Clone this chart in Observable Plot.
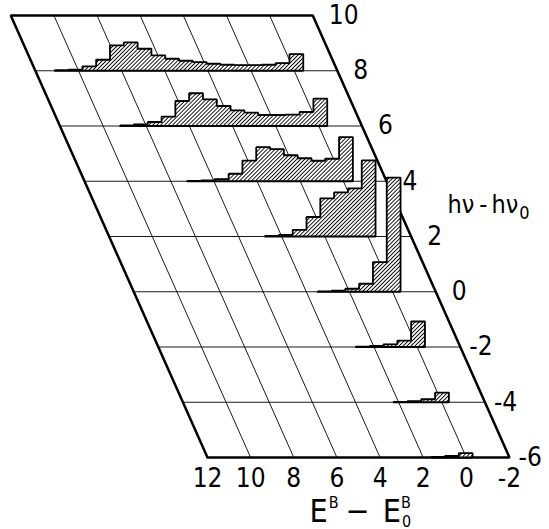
<!DOCTYPE html>
<html><head><meta charset="utf-8">
<script src="https://cdn.jsdelivr.net/npm/d3@7"></script>
<script src="https://cdn.jsdelivr.net/npm/@observablehq/plot@0.6"></script>
<style>
body{margin:0;background:#fff;}
.hist path{fill:url(#hatch);}
</style></head><body>
<div id="chart"></div>
<script>
// ---- data ----
const hvTicks = [10, 8, 6, 4, 2, 0, -2, -4, -6];
const hvTickLabels = ["10", "8", "6", "4", "2", "0", "-2", "-4", "-6"];
const eTicks = [12, 10, 8, 6, 4, 2, 0, -2];
const eTickLabels = ["12", "10", "8", "6", "4", "2", "0", "-2"];
const eGrid = [10, 8, 6, 4, 2, 0];
const hvGrid = [8, 6, 4, 2, 0, -2, -4];
const rowHv = [8, 6, 4, 2, 0, -2, -4, -6];
// right-hand edge (in E^B - E0^B) of each histogram, and bin width
const rowRightE = [-0.42, -0.39, -0.44, -0.35, -0.37, -0.36, -0.33, -0.29];
const binWidthE = 0.64;
// histogram intensities (arbitrary units), listed from the right-hand bin leftwards
const counts8 = [16.7, 7.7, 6, 5.7, 5.7, 6, 7, 8.7, 10, 12, 15.3, 22, 28.3, 25.3, 11, 4.3, 1, 0.5];
const counts6 = [27.3, 14, 11.3, 11, 11, 13.3, 15.7, 20, 26.7, 32.7, 25, 9.3, 4, 1.7, 0.6];
const counts4 = [44, 22.5, 20.5, 23, 26, 32, 34, 20.7, 7.5, 2.2, 0.8, 0.4];
const counts2 = [76, 48, 44, 38, 19.5, 6.7, 1.7, 0.6];
const counts0 = [114, 29.5, 8, 3, 1, 0.4];
const countsM2 = [25.5, 6.3, 2.7, 1, 0.4];
const countsM4 = [9.7, 3, 1, 0.4];
const countsM6 = [4.3, 1.5, 0.5];
const rowCounts = [counts8, counts6, counts4, counts2, counts0, countsM2, countsM4, countsM6];
const xLabel = "EB − E0B";
const yLabel = "hν - hν0";

// ---- oblique projection ----
const eMax = d3.max(eTicks), eMin = d3.min(eTicks);
const hvMin = d3.min(hvTicks), hvMax = d3.max(hvTicks);
const shear = 0.57;          // E-units shift per hν unit
const ampl = 1 / 27.6;       // hν units per intensity unit
const xv = (e, h) => e + shear * (h - hvMin);

const marks = [];
// grid
marks.push(Plot.link(hvGrid, {x1: h => xv(eMax, h), x2: h => xv(eMin, h), y1: h => h, y2: h => h, stroke: "#000", strokeWidth: 0.9}));
marks.push(Plot.link(eGrid, {x1: e => xv(e, hvMin), x2: e => xv(e, hvMax), y1: () => hvMin, y2: () => hvMax, stroke: "#000", strokeWidth: 0.9}));
// frame
const frame = [[eMax, hvMin], [eMin, hvMin], [eMin, hvMax], [eMax, hvMax], [eMax, hvMin]];
marks.push(Plot.line(frame, {x: d => xv(d[0], d[1]), y: d => d[1], stroke: "#000", strokeWidth: 2.5, strokeLinejoin: "miter", curve: "linear"}));

// histograms
rowHv.forEach((h, i) => {
  const c = rowCounts[i], R = rowRightE[i], n = c.length;
  const pts = [];
  for (let k = n - 1; k >= 0; k--) pts.push({e: R + (k + 1) * binWidthE, v: c[k]});
  pts.push({e: R, v: c[0]});
  const outline = [{e: R + n * binWidthE, v: 0}, ...pts, {e: R, v: 0}, {e: R + n * binWidthE, v: 0}];
  marks.push(Plot.area(pts, {x1: d => xv(d.e, h), y1: () => h, y2: d => h + d.v * ampl, curve: "step-after", fill: "#666", className: "hist"}));
  marks.push(Plot.line(outline, {x: d => xv(d.e, h), y: d => h + d.v * ampl, curve: "step-after", stroke: "#000", strokeWidth: 1.8, strokeLinejoin: "miter"}));
});

// tick labels along the slanted right edge
const rl = hvTicks.map((h, i) => ({h, label: hvTickLabels[i]}));
marks.push(Plot.text(rl.filter(d => d.h >= 0), {x: d => xv(eMin, d.h), y: d => d.h, text: "label", textAnchor: "start", dx: 16, fontSize: 26}));
marks.push(Plot.text(rl.filter(d => d.h < 0), {x: d => xv(eMin, d.h), y: d => d.h, text: "label", textAnchor: "start", dx: 9, fontSize: 26}));
// bottom tick labels
marks.push(Plot.text(eTicks, {x: e => xv(e, hvMin), y: () => hvMin, text: (d, i) => eTickLabels[i], dy: 21, fontSize: 26}));
// axis titles
marks.push(Plot.text([xLabel], {frameAnchor: "bottom-left", dx: 309, dy: -8, text: d => d, textAnchor: "start", lineAnchor: "bottom", fontSize: 32, className: "xlab"}));
marks.push(Plot.text([yLabel], {frameAnchor: "top-left", dx: 447, dy: 212, text: d => d, textAnchor: "start", lineAnchor: "bottom", fontSize: 25, className: "ylab"}));

const svg = Plot.plot({
  width: 549, height: 529,
  marginTop: 0, marginRight: 0, marginBottom: 0, marginLeft: 0,
  x: {type: "linear", domain: [eMax, eMin], range: [207, 509], axis: null},
  y: {type: "linear", domain: [hvMin, hvMax], range: [457, 15], axis: null},
  style: {fontFamily: "'Liberation Sans Narrow', 'DejaVu Sans Condensed', 'Liberation Sans', sans-serif", background: "#fff", color: "#000"},
  marks
});

const ns = "http://www.w3.org/2000/svg";
const defs = document.createElementNS(ns, "defs");
defs.innerHTML = '<pattern id="hatch" patternUnits="userSpaceOnUse" width="2.8" height="2.8" patternTransform="rotate(45)"><rect width="2.8" height="2.8" fill="#fff"/><line x1="0" y1="0" x2="0" y2="2.8" stroke="#000" stroke-width="1.8"/></pattern>';
svg.insertBefore(defs, svg.firstChild);

function richText(cls, parts) {
  const t = svg.querySelector("." + cls + " text");
  if (!t) return;
  t.textContent = "";
  for (const p of parts) {
    const s = document.createElementNS(ns, "tspan");
    s.textContent = p.t;
    if (p.dx != null) s.setAttribute("dx", p.dx);
    if (p.dy != null) s.setAttribute("dy", p.dy);
    if (p.size != null) s.setAttribute("font-size", p.size);
    t.appendChild(s);
  }
}
// "E^B − E_0^B"
richText("xlab", [
  {t: xLabel[0]},
  {t: xLabel[1], dx: 1, dy: -14, size: 16},
  {t: xLabel.slice(3, 4), dx: 7, dy: 14},
  {t: xLabel[5], dx: 13},
  {t: xLabel[6], dx: 1, dy: 5, size: 16},
  {t: xLabel[7], dx: -10, dy: -19, size: 16}
]);
// "hν - hν_0"
richText("ylab", [
  {t: yLabel.slice(0, 2)},
  {t: yLabel.slice(3, 4), dx: 5},
  {t: yLabel.slice(5, 7), dx: 4},
  {t: yLabel[7], dx: 1, dy: 6, size: 18}
]);

document.getElementById("chart").appendChild(svg);
</script>
</body></html>
